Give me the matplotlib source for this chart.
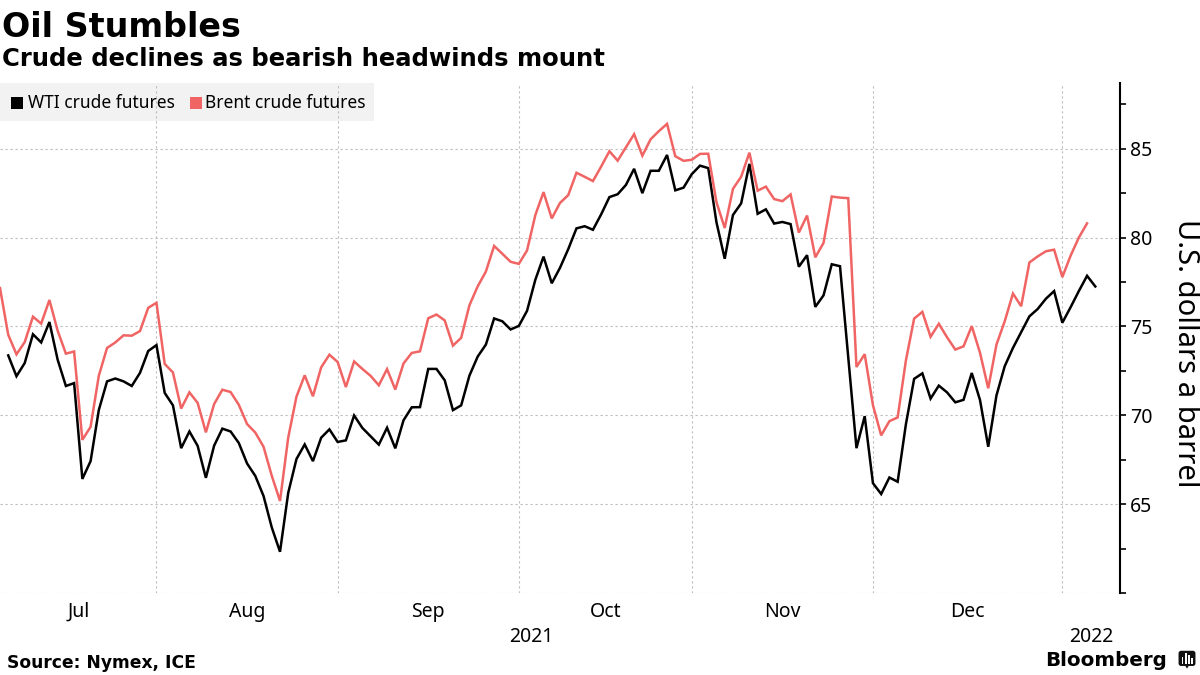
import numpy as np
import pandas as pd
import matplotlib
matplotlib.use("Agg")
import matplotlib.pyplot as plt
from matplotlib.patches import Rectangle, FancyBboxPatch, Polygon
from matplotlib.transforms import blended_transform_factory

plt.rcParams['font.family'] = ['Noto Sans', 'DejaVu Sans']

# ======== Data (daily settles, weekdays Jul 5 2021 - Jan 6 2022) ========
# weekday axis like the original; nan = no settlement that day
dates = pd.bdate_range("2021-07-05", "2022-01-06")

wti = [
    np.nan, 73.37, 72.20, 72.94, 74.56, 74.10, 75.25, 73.13, 71.65, 71.81,
    66.42, 67.42, 70.30, 71.91, 72.07, 71.91, 71.65, 72.39, 73.62, 73.95,
    71.26, 70.56, 68.15, 69.09, 68.28, 66.48, 68.29, 69.25, 69.09, 68.44,
    67.29, 66.59, 65.46, 63.69, 62.32, 65.64, 67.54, 68.36, 67.42, 68.74,
    69.21, 68.50, 68.59, 69.99, 69.29, np.nan, 68.35, 69.30, 68.14, 69.72,
    70.45, 70.46, 72.61, 72.61, 71.97, 70.29, 70.56, 72.23, 73.30, 73.98,
    75.45, 75.29, 74.83, 75.03, 75.88, 77.62, 78.93, 77.43, 78.30, 79.35,
    80.52, 80.64, 80.44, 81.31, 82.28, 82.44, 82.96, 83.87, 82.50, 83.76,
    83.76, 84.65, 82.66, 82.81, 83.57, 84.05, 83.91, 80.86, 78.81, 81.27,
    81.93, 84.15, 81.34, 81.59, 80.79, 80.88, 80.76, 78.36, 79.01, 76.10,
    76.75, 78.50, 78.39, np.nan, 68.15, 69.95, 66.18, 65.57, 66.50, 66.26,
    69.49, 72.05, 72.36, 70.94, 71.67, 71.29, 70.73, 70.87, 72.38, 70.86,
    68.23, 71.12, 72.76, 73.79, np.nan, 75.57, 75.98, 76.56, 76.99, 75.21,
    76.08, 76.99, 77.85, 77.25,
]

brent = [
    77.16, 74.53, 73.43, 74.12, 75.55, 75.16, 76.49, 74.76, 73.47, 73.59,
    68.62, 69.35, 72.23, 73.79, 74.10, 74.50, 74.48, 74.74, 76.05, 76.33,
    72.89, 72.41, 70.38, 71.29, 70.70, 69.04, 70.63, 71.44, 71.31, 70.59,
    69.51, 69.03, 68.23, 66.60, 65.18, 68.75, 71.05, 72.25, 71.07, 72.70,
    73.41, 73.00, 71.59, 73.03, 72.61, 72.22, 71.69, 72.60, 71.45, 72.92,
    73.51, 73.60, 75.46, 75.67, 75.34, 73.92, 74.36, 76.19, 77.25, 78.09,
    79.53, 79.09, 78.64, 78.52, 79.28, 81.26, 82.56, 81.08, 81.95, 82.39,
    83.65, 83.42, 83.18, 84.00, 84.86, 84.33, 85.08, 85.82, 84.61, 85.53,
    85.99, 86.40, 84.58, 84.32, 84.38, 84.71, 84.72, 81.99, 80.54, 82.74,
    83.43, 84.78, 82.64, 82.87, 82.17, 82.05, 82.43, 80.28, 81.24, 78.89,
    79.70, 82.31, 82.25, 82.22, 72.72, 73.44, 70.57, 68.87, 69.67, 69.88,
    73.08, 75.44, 75.82, 74.42, 75.15, 74.39, 73.70, 73.88, 75.02, 73.52,
    71.52, 73.98, 75.29, 76.85, 76.14, 78.60, 78.94, 79.23, 79.32, 77.78,
    78.98, 80.00, 80.80, np.nan,
]

series_names = ["WTI crude futures", "Brent crude futures"]
series_colors = ["#000000", "#F06464"]

W, H = 1200, 675


def fx(px):
    return px / W


def fy(py):
    return 1 - py / H


def main():
    fig = plt.figure(figsize=(12, 6.75), dpi=100)
    fig.patch.set_facecolor("white")

    # plot area: x 0..1120 px, y 83..593 px
    ax = fig.add_axes([0, fy(593), fx(1120), (593 - 83) / H])
    ax.patch.set_alpha(0)

    x = np.arange(len(dates))
    for vals, col in zip([wti, brent], series_colors):
        y = np.array(vals, dtype=float)
        m = ~np.isnan(y)
        ax.plot(x[m], y[m], color=col, lw=1.8, zorder=3, solid_joinstyle="miter")

    ax.set_xlim(0, 136.0)
    ax.set_ylim(60, 88.7)

    # month boundaries sit on the last weekday of each month
    months = dates.to_period("M")
    month_end = [i for i in range(len(dates) - 1) if months[i] != months[i + 1]]
    for i in month_end:
        ax.axvline(i, color="#bdbdbd", lw=0.8, ls=(0, (2, 2.5)), zorder=1)
    for v in np.arange(60, 86, 5):
        ax.axhline(v, color="#bdbdbd", lw=0.8, ls=(0, (2, 2.5)), zorder=1)

    for s in ["left", "top", "bottom"]:
        ax.spines[s].set_visible(False)
    ax.spines["right"].set_linewidth(1.5)
    ax.set_xticks([])
    yt = np.arange(60, 88, 2.5)
    ax.set_yticks(yt)
    ax.set_yticklabels([f"{int(v)}" if v % 5 == 0 and v > 60 else "" for v in yt])
    ax.yaxis.tick_right()
    ax.tick_params(axis="y", length=4, width=1.2, pad=3, labelsize=14, direction="out")

    # month labels centred between boundaries
    trans = blended_transform_factory(ax.transData, fig.transFigure)
    edges = [0] + month_end + [136.0]
    for k in range(len(edges) - 1):
        lab = dates[edges[k] + 1 if k > 0 else 0].strftime("%b")
        if lab == "Jan":
            continue
        ax.text((edges[k] + edges[k + 1]) / 2, fy(617), lab, transform=trans,
                ha="center", va="baseline", fontsize=14)
    ax.text((0 + month_end[-1]) / 2, fy(642), "2021", transform=trans,
            ha="center", va="baseline", fontsize=14)
    ax.text((month_end[-1] + 136.0) / 2, fy(642), "2022", transform=trans,
            ha="center", va="baseline", fontsize=14)

    fig.text(fx(1185), fy(353), "U.S. dollars a barrel", rotation=270,
             ha="center", va="center", fontsize=21)

    # legend strip
    fig.patches.append(Rectangle((0, fy(121)), fx(374), (121 - 83) / H,
                                 transform=fig.transFigure, facecolor="#f2f2f2",
                                 edgecolor="none", zorder=-1))
    leg_x = [(11, 28), (190, 205)]
    for (sx, tx), name, col in zip(leg_x, series_names, series_colors):
        fig.patches.append(Rectangle((fx(sx), fy(109)), 12 / W, 12 / H,
                                     transform=fig.transFigure, facecolor=col,
                                     edgecolor="none", zorder=2))
        fig.text(fx(tx), fy(102.5), name, ha="left", va="center", fontsize=12.5)

    # titles and footer
    fig.text(fx(2), fy(37), "Oil Stumbles", fontsize=24, fontweight="bold",
             family="DejaVu Sans", va="baseline")
    fig.text(fx(2), fy(66), "Crude declines as bearish headwinds mount", fontsize=17.5,
             fontweight="bold", family="DejaVu Sans", va="baseline")
    fig.text(fx(7), fy(668), "Source: Nymex, ICE", fontsize=12.3, fontweight="bold",
             family="DejaVu Sans", va="baseline")
    fig.text(fx(1167), fy(666), "Bloomberg", fontsize=14.3, fontweight="bold",
             family="DejaVu Sans", va="baseline", ha="right")

    # small logo mark
    lg = fig.add_axes([fx(1178), fy(669), 18 / W, 19 / H])
    lg.set_xlim(0, 1)
    lg.set_ylim(0, 1)
    lg.axis("off")
    lg.add_patch(FancyBboxPatch((0.03, 0.16), 0.94, 0.8,
                                boxstyle="round,pad=0,rounding_size=0.14",
                                facecolor="#111111", edgecolor="none"))
    lg.add_patch(Polygon([[0.4, 0.17], [0.6, 0.17], [0.5, 0.02]],
                         facecolor="#111111", edgecolor="none"))
    for bx, bh in [(0.2, 0.35), (0.38, 0.55), (0.56, 0.45), (0.74, 0.3)]:
        lg.add_patch(Rectangle((bx, 0.28), 0.1, bh, facecolor="white", edgecolor="none"))

    fig.savefig("out.png", dpi=100)


if __name__ == "__main__":
    main()
